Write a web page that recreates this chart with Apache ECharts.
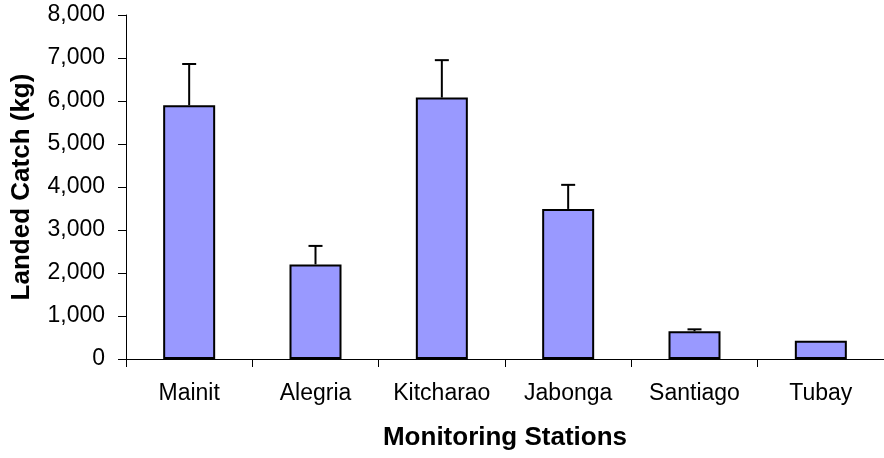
<!DOCTYPE html>
<html>
<head>
<meta charset="utf-8">
<script src="https://cdn.jsdelivr.net/npm/echarts@6/dist/echarts.min.js"></script>
<style>
html,body{margin:0;padding:0;background:#fff;}
#chart{width:884px;height:458px;}
</style>
</head>
<body>
<div id="chart"></div>
<script>
var categories = ['Mainit', 'Alegria', 'Kitcharao', 'Jabonga', 'Santiago', 'Tubay'];
var catchValues = [5900, 2200, 6080, 3490, 645, 425];
var errorUpper = [6860, 2630, 6950, 4050, 690, 425];
var yTicks = [0, 1000, 2000, 3000, 4000, 5000, 6000, 7000, 8000];

var errData = categories.map(function (c, i) { return [i, catchValues[i], errorUpper[i]]; });

var chart = echarts.init(document.getElementById('chart'), null, {renderer: 'canvas'});
chart.setOption({
  animation: false,
  backgroundColor: '#ffffff',
  textStyle: {fontFamily: 'Liberation Sans, Arial, sans-serif'},
  grid: {left: 126, right: 0, top: 15, bottom: 99, containLabel: false},
  xAxis: {
    type: 'category',
    data: categories,
    boundaryGap: true,
    name: 'Monitoring Stations',
    nameLocation: 'middle',
    nameGap: 66,
    nameTextStyle: {fontSize: 26, fontWeight: 'bold', color: '#000', fontFamily: 'Liberation Sans'},
    axisLine: {lineStyle: {color: '#000', width: 1}},
    axisTick: {show: true, length: 8, inside: false, lineStyle: {color: '#000'}},
    axisLabel: {fontSize: 23, color: '#000', margin: 23, interval: 0, fontFamily: 'Liberation Sans'}
  },
  yAxis: {
    type: 'value',
    min: yTicks[0],
    max: yTicks[yTicks.length - 1],
    interval: 1000,
    name: 'Landed Catch (kg)',
    nameLocation: 'middle',
    nameRotate: 90,
    nameGap: 91,
    nameTextStyle: {fontSize: 26, fontWeight: 'bold', color: '#000', fontFamily: 'Liberation Sans'},
    axisLine: {show: true, lineStyle: {color: '#000', width: 1}},
    axisTick: {show: true, length: 8, inside: false, lineStyle: {color: '#000'}},
    splitLine: {show: false},
    axisLabel: {
      fontSize: 23, color: '#000', margin: 21, fontFamily: 'Liberation Sans',
      formatter: function (v) { return v.toLocaleString('en-US'); }
    }
  },
  series: [
    {
      type: 'bar',
      data: catchValues,
      barWidth: 52,
      itemStyle: {color: '#9999FF', borderColor: '#000', borderWidth: 2}
    },
    {
      type: 'custom',
      data: errData,
      z: 10,
      renderItem: function (params, api) {
        var idx = api.value(0);
        var top = api.coord([idx, api.value(1)]);
        var up = api.coord([idx, api.value(2)]);
        if (up[1] >= top[1] - 0.5) { return null; }
        var hw = 7;
        return {
          type: 'group',
          children: [
            {type: 'line', shape: {x1: top[0], y1: top[1], x2: up[0], y2: up[1]}, style: {stroke: '#000', lineWidth: 2}},
            {type: 'line', shape: {x1: up[0] - hw, y1: up[1], x2: up[0] + hw, y2: up[1]}, style: {stroke: '#000', lineWidth: 2}}
          ]
        };
      }
    }
  ]
});
</script>
</body>
</html>
